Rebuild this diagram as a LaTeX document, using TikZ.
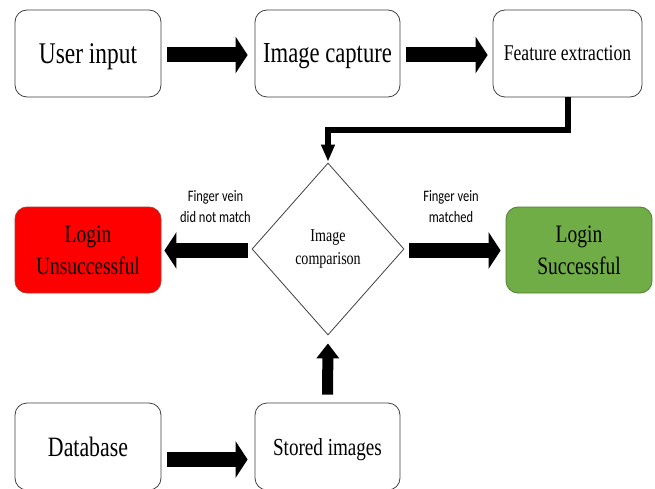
\documentclass[tikz,border=0pt]{standalone}
\usepackage{fontspec}
\usetikzlibrary{shapes.geometric,arrows.meta}
\newfontfamily\boxfont[FakeStretch=0.78]{Liberation Serif}
\newfontfamily\notefont[FakeStretch=0.78]{Carlito}
\definecolor{okgreen}{HTML}{70AD47}
\definecolor{okborder}{HTML}{507E32}
\definecolor{failborder}{HTML}{B03A2E}
\tikzset{
  stepbox/.style={draw=black!75, line width=0.8pt, rounded corners=12pt,
    minimum width=146pt, minimum height=87pt, align=center, inner sep=2pt},
  decision/.style={diamond, draw=black!75, line width=0.8pt, inner sep=0pt,
    minimum width=152pt, minimum height=172pt, align=center},
  blockarrow/.style={line width=15pt, -{Triangle[length=12pt,width=36pt]}},
  thinarrow/.style={line width=6pt, -{Triangle[length=17pt,width=13pt]}},
  note/.style={align=center, font=\notefont\fontsize{16}{21}\selectfont}
}
\begin{document}
\begin{tikzpicture}[x=1pt,y=-1pt]
  \useasboundingbox[fill=white] (0,0) rectangle (655,489);
  % process boxes
  \node[stepbox, text depth=0pt, font=\boxfont\fontsize{30}{34}\selectfont] (input) at (88,53.5) {User input};
  \node[stepbox, text depth=0pt, minimum width=145pt, font=\boxfont\fontsize{29}{33}\selectfont] (capture) at (327.5,53.5) {Image capture};
  \node[stepbox, minimum width=149pt, font=\boxfont\fontsize{22.5}{26}\selectfont] (extract) at (567.5,53.5) {Feature extraction};
  \node[decision, font=\boxfont\fontsize{18}{23}\selectfont] (compare) at (328,249) {Image\\comparison};
  \node[stepbox, minimum height=86pt, fill=red, draw=failborder, font=\boxfont\fontsize{25}{32}\selectfont] (fail) at (88,250) {Login\\Unsuccessful};
  \node[stepbox, minimum height=86pt, fill=okgreen, draw=okborder, font=\boxfont\fontsize{25}{32}\selectfont] (success) at (579,250) {Login\\Successful};
  \node[stepbox, font=\boxfont\fontsize{28}{32}\selectfont] (database) at (88,446.5) {Database};
  \node[stepbox, text depth=0pt, minimum width=145pt, font=\boxfont\fontsize{24.5}{28}\selectfont] (stored) at (327.5,446.5) {Stored images};
  % connectors
  \draw[blockarrow, shorten <=6pt, shorten >=7pt] ([yshift=-1.5pt]input.east) -- ([yshift=-1.5pt]capture.west);
  \draw[blockarrow, shorten <=6pt, shorten >=5pt] ([yshift=-1.5pt]capture.east) -- ([yshift=-1.5pt]extract.west);
  \draw[thinarrow, shorten >=1pt] (extract.south) -- ++(0,33) -| (compare.north);
  \draw[blockarrow, shorten <=4pt, shorten >=3pt] ([yshift=-1.5pt]compare.west) -- ([yshift=-0.5pt]fail.east)
    node[note, midway, above=17pt, xshift=9pt] {Finger vein\\did not match};
  \draw[blockarrow, shorten <=5pt, shorten >=5pt] ([yshift=-1.5pt]compare.east) -- ([yshift=-0.5pt]success.west)
    node[note, midway, above=17pt, xshift=-4pt] {Finger vein\\matched};
  \draw[blockarrow, shorten <=6pt, shorten >=7pt] ([yshift=-13pt]database.east) -- ([yshift=-13pt]stored.west);
  \draw[line width=11pt, -{Triangle[length=15pt,width=22pt]}, shorten <=8pt, shorten >=8pt] (stored.north) -- (compare.south);
\end{tikzpicture}
\end{document}
